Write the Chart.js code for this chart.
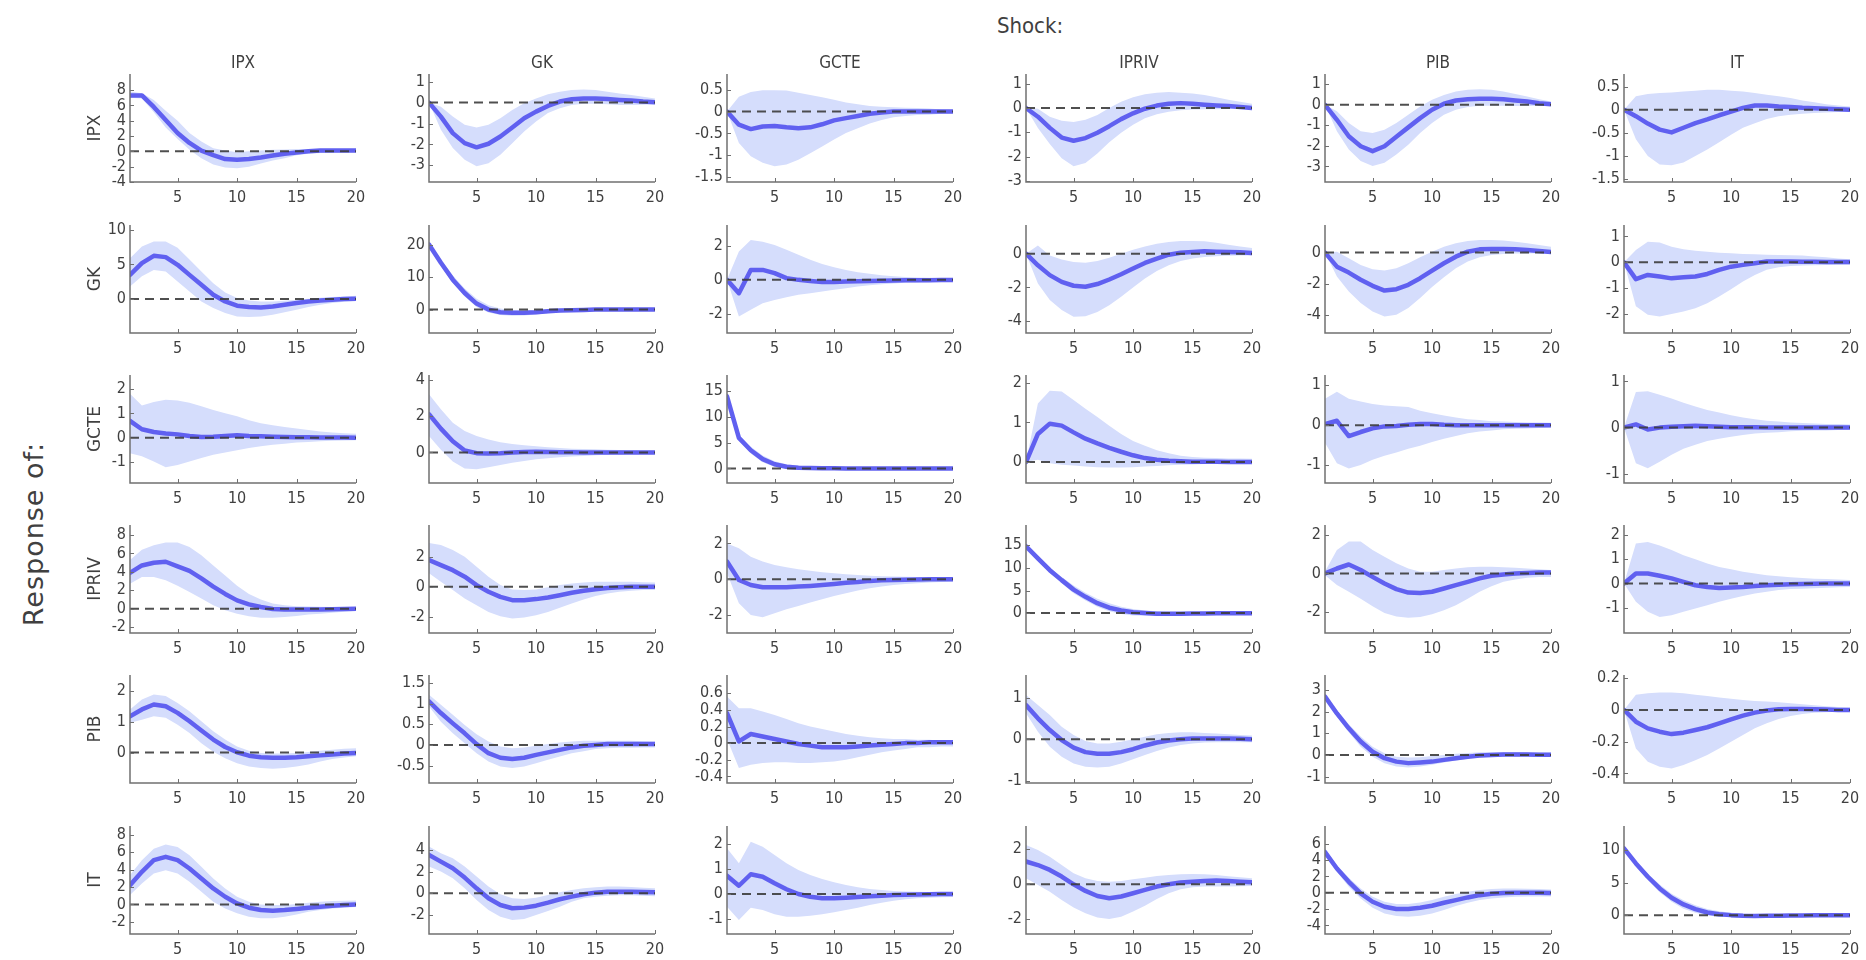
<!DOCTYPE html>
<html>
<head>
<meta charset="utf-8">
<script src="https://cdn.jsdelivr.net/npm/chart.js@4.4.1/dist/chart.umd.min.js"></script>
<style>
  html, body { margin: 0; padding: 0; background: #ffffff; }
  #fig { position: relative; width: 1866px; height: 960px; overflow: hidden; background: #ffffff; }
  #fig canvas { position: absolute; }
  .txt { position: absolute; white-space: nowrap; color: #404040; transform: translate(-50%, -50%); }
  .rot { transform: translate(-50%, -50%) rotate(-90deg); }
</style>
</head>
<body>
<div id="fig"></div>
<script>
// Impulse responses: rows = responding variable, columns = shocked variable.
const shocks = ['IPX', 'GK', 'GCTE', 'IPRIV', 'PIB', 'IT'];
const responses = ['IPX', 'GK', 'GCTE', 'IPRIV', 'PIB', 'IT'];
const horizon = [1, 2, 3, 4, 5, 6, 7, 8, 9, 10, 11, 12, 13, 14, 15, 16, 17, 18, 19, 20];
const xTicks = [5, 10, 15, 20];

// ---- Response of IPX ----
const irf_IPX = [
  [7.3, 7.3, 5.8, 4.1, 2.4, 1.1, 0.1, -0.5, -1.0, -1.1, -1.0, -0.8, -0.55, -0.3, -0.15, 0.0, 0.1, 0.1, 0.1, 0.1],
  [0, -0.67, -1.46, -1.94, -2.14, -1.97, -1.62, -1.19, -0.75, -0.43, -0.16, 0.05, 0.16, 0.2, 0.2, 0.17, 0.13, 0.1, 0.05, 0.02],
  [0, -0.3, -0.4, -0.34, -0.33, -0.36, -0.38, -0.36, -0.29, -0.2, -0.15, -0.1, -0.05, -0.02, 0, 0, 0, 0, 0, 0],
  [0, -0.36, -0.82, -1.22, -1.35, -1.24, -1.02, -0.75, -0.46, -0.22, -0.03, 0.1, 0.17, 0.2, 0.17, 0.13, 0.1, 0.08, 0.04, 0],
  [0, -0.73, -1.53, -2.02, -2.26, -2.02, -1.56, -1.1, -0.65, -0.24, 0.05, 0.21, 0.27, 0.3, 0.3, 0.27, 0.21, 0.16, 0.08, 0.03],
  [0, -0.14, -0.3, -0.43, -0.49, -0.39, -0.29, -0.21, -0.12, -0.04, 0.04, 0.09, 0.09, 0.07, 0.06, 0.04, 0.03, 0.02, 0.01, 0]
];
const hi_IPX = [
  [7.8, 7.6, 6.7, 5.3, 4.0, 2.4, 1.3, 0.4, 0.1, -0.1, 0.0, 0.1, 0.2, 0.25, 0.3, 0.3, 0.3, 0.3, 0.3, 0.3],
  [0, -0.2, -0.67, -1.06, -1.19, -1.06, -0.75, -0.35, -0.03, 0.2, 0.4, 0.52, 0.6, 0.63, 0.6, 0.52, 0.44, 0.36, 0.28, 0.2],
  [0, 0.34, 0.45, 0.49, 0.49, 0.48, 0.43, 0.38, 0.33, 0.27, 0.21, 0.17, 0.13, 0.11, 0.1, 0.09, 0.08, 0.07, 0.05, 0.04],
  [0, -0.03, -0.36, -0.53, -0.58, -0.49, -0.29, 0, 0.26, 0.44, 0.57, 0.63, 0.66, 0.63, 0.6, 0.53, 0.44, 0.34, 0.26, 0.17],
  [0, -0.32, -0.89, -1.29, -1.37, -1.21, -0.89, -0.48, -0.08, 0.24, 0.48, 0.65, 0.73, 0.76, 0.73, 0.65, 0.53, 0.4, 0.27, 0.16],
  [0, 0.29, 0.34, 0.36, 0.37, 0.39, 0.41, 0.43, 0.43, 0.41, 0.39, 0.36, 0.32, 0.29, 0.25, 0.2, 0.16, 0.12, 0.09, 0.07]
];
const lo_IPX = [
  [7.0, 6.9, 5.1, 3.1, 1.6, 0.2, -0.9, -1.7, -2.1, -2.2, -2.0, -1.6, -1.2, -0.9, -0.5, -0.3, -0.2, -0.15, -0.1, -0.1],
  [0, -1.3, -2.17, -2.73, -3.05, -2.9, -2.5, -1.94, -1.38, -0.9, -0.5, -0.27, -0.11, -0.06, -0.06, -0.08, -0.11, -0.11, -0.1, -0.08],
  [0, -0.72, -1.02, -1.17, -1.25, -1.21, -1.1, -0.95, -0.8, -0.64, -0.49, -0.38, -0.27, -0.19, -0.13, -0.1, -0.08, -0.07, -0.05, -0.04],
  [0, -0.82, -1.48, -2.07, -2.4, -2.27, -1.88, -1.41, -1.02, -0.69, -0.42, -0.26, -0.16, -0.09, -0.06, -0.05, -0.05, -0.04, -0.03, -0.03],
  [0, -1.29, -2.18, -2.74, -2.98, -2.82, -2.42, -1.94, -1.37, -0.89, -0.48, -0.24, -0.11, -0.05, -0.05, -0.05, -0.06, -0.06, -0.05, -0.04],
  [0, -0.64, -1.0, -1.18, -1.2, -1.14, -1.0, -0.86, -0.7, -0.54, -0.39, -0.29, -0.2, -0.14, -0.11, -0.09, -0.07, -0.06, -0.05, -0.04]
];
const yLim_IPX = [[-4, 10.1], [-3.8, 1.37], [-1.61, 0.86], [-3.05, 1.4], [-3.76, 1.5], [-1.56, 0.77]];
const yTicks_IPX = [[-4, -2, 0, 2, 4, 6, 8], [-3, -2, -1, 0, 1], [-1.5, -1, -0.5, 0, 0.5], [-3, -2, -1, 0, 1], [-3, -2, -1, 0, 1], [-1.5, -1, -0.5, 0, 0.5]];

// ---- Response of GK ----
const irf_GK = [
  [3.5, 5.2, 6.25, 6.06, 4.95, 3.5, 2.07, 0.63, -0.34, -0.96, -1.15, -1.2, -1.06, -0.82, -0.58, -0.34, -0.19, -0.1, 0, 0.05],
  [20, 14.4, 9.2, 5.1, 1.85, 0, -0.8, -1.0, -1.0, -0.8, -0.5, -0.3, -0.2, -0.1, 0, 0, 0, 0, 0, 0],
  [0, -0.78, 0.58, 0.58, 0.39, 0.1, 0, -0.06, -0.12, -0.12, -0.1, -0.08, -0.06, -0.05, -0.04, -0.03, -0.02, -0.02, -0.01, -0.01],
  [0, -0.69, -1.27, -1.67, -1.9, -1.96, -1.8, -1.53, -1.22, -0.88, -0.55, -0.29, -0.06, 0.06, 0.1, 0.14, 0.12, 0.1, 0.08, 0.04],
  [0, -0.9, -1.28, -1.74, -2.13, -2.43, -2.34, -2.06, -1.64, -1.15, -0.68, -0.26, 0.06, 0.21, 0.23, 0.23, 0.21, 0.17, 0.11, 0.04],
  [0, -0.65, -0.49, -0.55, -0.62, -0.58, -0.55, -0.45, -0.29, -0.17, -0.1, -0.04, 0.03, 0.03, 0.03, 0.02, 0.02, 0.01, 0.01, 0.01]
];
const hi_GK = [
  [5.9, 7.6, 8.3, 8.3, 7.4, 5.7, 4.0, 2.3, 0.96, 0.14, -0.19, -0.34, -0.34, -0.24, -0.1, 0.05, 0.19, 0.29, 0.38, 0.48],
  [20.5, 15.5, 10.5, 6.5, 3.3, 1.3, 0.3, -0.2, -0.3, -0.2, 0, 0.2, 0.3, 0.4, 0.4, 0.4, 0.35, 0.3, 0.3, 0.3],
  [0, 1.65, 2.33, 2.23, 2.04, 1.75, 1.46, 1.17, 0.93, 0.74, 0.58, 0.45, 0.35, 0.27, 0.21, 0.17, 0.14, 0.12, 0.1, 0.08],
  [0, 0.49, -0.1, -0.35, -0.49, -0.53, -0.43, -0.24, 0, 0.24, 0.43, 0.59, 0.69, 0.75, 0.75, 0.73, 0.65, 0.53, 0.43, 0.33],
  [0, 0.06, -0.36, -0.79, -1.06, -1.15, -1.0, -0.68, -0.3, 0.06, 0.38, 0.6, 0.74, 0.81, 0.81, 0.77, 0.7, 0.6, 0.49, 0.38],
  [0, 0.47, 0.79, 0.76, 0.6, 0.5, 0.45, 0.41, 0.37, 0.35, 0.32, 0.31, 0.29, 0.28, 0.27, 0.26, 0.22, 0.19, 0.15, 0.12]
];
const lo_GK = [
  [1.8, 3.3, 4.2, 4.0, 2.55, 1.1, -0.34, -1.3, -2.0, -2.5, -2.6, -2.5, -2.26, -1.92, -1.54, -1.15, -0.82, -0.58, -0.38, -0.29],
  [19.5, 13.5, 8.2, 4.0, 0.8, -0.9, -1.7, -1.9, -1.8, -1.5, -1.1, -0.8, -0.6, -0.5, -0.4, -0.35, -0.3, -0.3, -0.3, -0.3],
  [0, -2.14, -1.75, -1.36, -1.17, -1.01, -0.87, -0.78, -0.68, -0.58, -0.49, -0.39, -0.31, -0.25, -0.21, -0.17, -0.15, -0.13, -0.12, -0.1],
  [0, -1.76, -2.75, -3.33, -3.73, -3.7, -3.45, -3.06, -2.55, -2.0, -1.47, -1.02, -0.69, -0.43, -0.29, -0.2, -0.15, -0.12, -0.1, -0.1],
  [0, -1.53, -2.49, -3.23, -3.77, -4.09, -3.98, -3.55, -2.91, -2.21, -1.57, -1.0, -0.57, -0.3, -0.15, -0.09, -0.06, -0.05, -0.04, -0.04],
  [0, -1.7, -2.03, -2.09, -2.0, -1.9, -1.77, -1.58, -1.32, -1.04, -0.74, -0.49, -0.29, -0.19, -0.14, -0.12, -0.11, -0.1, -0.09, -0.09]
];
const yLim_GK = [[-4.9, 10.7], [-7.2, 26], [-3.1, 3.2], [-4.7, 1.7], [-5.15, 1.77], [-2.73, 1.44]];
const yTicks_GK = [[0, 5, 10], [0, 10, 20], [-2, 0, 2], [-4, -2, 0], [-4, -2, 0], [-2, -1, 0, 1]];

// ---- Response of GCTE ----
const irf_GCTE = [
  [0.69, 0.35, 0.24, 0.18, 0.14, 0.07, 0.03, 0.04, 0.07, 0.1, 0.07, 0.06, 0.04, 0.03, 0.02, 0.02, 0.01, 0.01, 0.01, 0],
  [2.1, 1.31, 0.62, 0.11, -0.04, -0.06, -0.04, 0, 0.02, 0.04, 0.02, 0.01, 0.01, 0, 0, 0, 0, 0, 0, 0],
  [13.9, 5.9, 3.5, 1.8, 0.8, 0.33, 0.13, 0.07, 0.03, 0.02, 0.01, 0, 0, 0, 0, 0, 0, 0, 0, 0],
  [0, 0.71, 0.97, 0.92, 0.75, 0.59, 0.47, 0.36, 0.26, 0.17, 0.1, 0.06, 0.03, 0.02, 0.01, 0.01, 0.01, 0, 0, 0],
  [0.03, 0.11, -0.27, -0.17, -0.08, -0.03, -0.02, 0.01, 0.03, 0.03, 0.01, 0, 0, 0, 0, 0, 0, 0, 0, 0],
  [0, 0.07, -0.04, 0, 0.02, 0.03, 0.04, 0.03, 0.02, 0.01, 0.01, 0.01, 0, 0, 0, 0, 0, 0, 0, 0]
];
const hi_GCTE = [
  [1.8, 1.32, 1.46, 1.56, 1.53, 1.43, 1.29, 1.14, 1.0, 0.88, 0.72, 0.6, 0.51, 0.44, 0.38, 0.32, 0.26, 0.22, 0.19, 0.17],
  [3.2, 2.37, 1.64, 1.18, 0.9, 0.71, 0.56, 0.47, 0.39, 0.34, 0.28, 0.24, 0.21, 0.19, 0.17, 0.15, 0.13, 0.11, 0.1, 0.09],
  [14.3, 6.4, 4.2, 2.5, 1.4, 0.8, 0.5, 0.35, 0.25, 0.2, 0.15, 0.12, 0.1, 0.1, 0.08, 0.07, 0.06, 0.05, 0.05, 0.05],
  [0, 1.48, 1.8, 1.78, 1.57, 1.35, 1.14, 0.92, 0.71, 0.53, 0.41, 0.3, 0.22, 0.16, 0.13, 0.11, 0.1, 0.09, 0.09, 0.08],
  [0.66, 0.83, 0.66, 0.59, 0.53, 0.49, 0.47, 0.45, 0.36, 0.3, 0.24, 0.19, 0.15, 0.13, 0.1, 0.09, 0.08, 0.07, 0.07, 0.06],
  [0, 0.77, 0.79, 0.71, 0.63, 0.54, 0.46, 0.38, 0.33, 0.27, 0.22, 0.18, 0.15, 0.13, 0.11, 0.1, 0.09, 0.08, 0.08, 0.07]
];
const lo_GCTE = [
  [-0.63, -0.76, -0.97, -1.21, -1.11, -0.97, -0.83, -0.69, -0.6, -0.51, -0.42, -0.35, -0.28, -0.24, -0.19, -0.17, -0.14, -0.12, -0.11, -0.1],
  [0.9, 0.15, -0.5, -0.88, -0.93, -0.82, -0.69, -0.56, -0.47, -0.37, -0.32, -0.26, -0.22, -0.19, -0.16, -0.13, -0.11, -0.09, -0.08, -0.07],
  [13.5, 5.5, 2.9, 1.2, 0.3, -0.1, -0.2, -0.2, -0.2, -0.15, -0.12, -0.1, -0.1, -0.08, -0.07, -0.06, -0.05, -0.05, -0.04, -0.04],
  [0, 0.06, -0.03, -0.07, -0.09, -0.11, -0.13, -0.14, -0.14, -0.13, -0.11, -0.1, -0.08, -0.07, -0.06, -0.05, -0.05, -0.04, -0.04, -0.03],
  [-0.44, -0.95, -1.08, -0.99, -0.86, -0.76, -0.68, -0.59, -0.51, -0.42, -0.34, -0.27, -0.2, -0.16, -0.13, -0.1, -0.09, -0.08, -0.07, -0.06],
  [0, -0.77, -0.88, -0.74, -0.59, -0.46, -0.37, -0.29, -0.24, -0.2, -0.16, -0.13, -0.11, -0.1, -0.08, -0.07, -0.06, -0.06, -0.05, -0.05]
];
const yLim_GCTE = [[-1.85, 2.57], [-1.68, 4.26], [-2.8, 18], [-0.53, 2.2], [-1.44, 1.25], [-1.2, 1.14]];
const yTicks_GCTE = [[-1, 0, 1, 2], [0, 2, 4], [0, 5, 10, 15], [0, 1, 2], [-1, 0, 1], [-1, 0, 1]];

// ---- Response of IPRIV ----
const irf_IPRIV = [
  [3.9, 4.7, 5.0, 5.1, 4.6, 4.1, 3.3, 2.4, 1.6, 0.9, 0.47, 0.18, -0.04, -0.1, -0.1, -0.1, -0.1, -0.07, -0.04, 0],
  [1.78, 1.44, 1.1, 0.67, 0.11, -0.33, -0.67, -0.89, -0.89, -0.82, -0.71, -0.56, -0.4, -0.27, -0.16, -0.09, -0.04, 0, 0, 0],
  [0.99, -0.04, -0.32, -0.45, -0.45, -0.45, -0.41, -0.37, -0.32, -0.26, -0.19, -0.15, -0.09, -0.06, -0.04, -0.02, -0.01, 0, 0, 0],
  [14.8, 12.1, 9.5, 7.3, 5.2, 3.6, 2.2, 1.2, 0.6, 0.2, 0, -0.15, -0.15, -0.12, -0.1, -0.08, -0.05, -0.03, -0.02, -0.01],
  [0, 0.26, 0.47, 0.18, -0.18, -0.53, -0.82, -1.0, -1.02, -0.96, -0.79, -0.61, -0.44, -0.26, -0.12, -0.05, 0, 0.03, 0.05, 0.05],
  [0, 0.41, 0.41, 0.32, 0.21, 0.07, -0.07, -0.14, -0.18, -0.16, -0.14, -0.1, -0.07, -0.05, -0.03, -0.02, -0.01, 0, 0, 0]
];
const hi_IPRIV = [
  [5.3, 6.4, 6.9, 7.2, 7.2, 6.7, 5.8, 4.7, 3.6, 2.5, 1.6, 1.0, 0.55, 0.36, 0.25, 0.22, 0.2, 0.18, 0.16, 0.15],
  [2.9, 2.78, 2.44, 2.0, 1.33, 0.67, 0.11, -0.18, -0.22, -0.18, -0.04, 0.11, 0.22, 0.29, 0.33, 0.33, 0.33, 0.33, 0.3, 0.29],
  [2.0, 1.73, 1.26, 0.99, 0.8, 0.67, 0.56, 0.47, 0.39, 0.33, 0.28, 0.24, 0.2, 0.17, 0.15, 0.14, 0.13, 0.12, 0.11, 0.1],
  [15.2, 12.6, 10.1, 8.0, 6.1, 4.5, 3.2, 2.2, 1.4, 0.9, 0.6, 0.4, 0.3, 0.25, 0.2, 0.18, 0.16, 0.15, 0.15, 0.15],
  [0.1, 1.23, 1.67, 1.67, 1.23, 0.88, 0.53, 0.26, 0.09, 0.09, 0.18, 0.26, 0.32, 0.35, 0.35, 0.32, 0.3, 0.26, 0.22, 0.18],
  [0, 1.64, 1.7, 1.56, 1.37, 1.16, 0.99, 0.82, 0.68, 0.58, 0.48, 0.41, 0.34, 0.3, 0.26, 0.23, 0.2, 0.18, 0.16, 0.14]
];
const lo_IPRIV = [
  [2.7, 3.45, 3.45, 3.1, 2.5, 1.8, 1.1, 0.36, -0.18, -0.55, -0.84, -0.98, -0.98, -0.9, -0.8, -0.65, -0.55, -0.44, -0.33, -0.25],
  [0.89, 0.33, -0.22, -0.78, -1.22, -1.67, -1.96, -2.1, -2.04, -1.89, -1.67, -1.4, -1.11, -0.84, -0.62, -0.44, -0.33, -0.27, -0.22, -0.22],
  [0.33, -1.34, -2.0, -2.12, -1.9, -1.67, -1.49, -1.3, -1.12, -0.93, -0.78, -0.63, -0.5, -0.41, -0.32, -0.26, -0.22, -0.18, -0.15, -0.13],
  [14.4, 11.6, 8.9, 6.6, 4.4, 2.8, 1.4, 0.4, -0.2, -0.5, -0.6, -0.65, -0.6, -0.5, -0.4, -0.3, -0.25, -0.2, -0.15, -0.12],
  [-0.1, -0.61, -0.96, -1.32, -1.72, -2.07, -2.25, -2.32, -2.28, -2.14, -1.93, -1.67, -1.32, -0.96, -0.67, -0.44, -0.32, -0.23, -0.18, -0.18],
  [0, -0.75, -1.16, -1.37, -1.3, -1.16, -1.03, -0.89, -0.75, -0.62, -0.51, -0.41, -0.34, -0.27, -0.23, -0.21, -0.19, -0.17, -0.15, -0.14]
];
const yLim_IPRIV = [[-2.65, 9.1], [-3.07, 4.1], [-3, 3.03], [-4.4, 19.5], [-3.12, 2.54], [-2.03, 2.4]];
const yTicks_IPRIV = [[-2, 0, 2, 4, 6, 8], [-2, 0, 2], [-2, 0, 2], [0, 5, 10, 15], [-2, 0, 2], [-1, 0, 1, 2]];

// ---- Response of PIB ----
const irf_PIB = [
  [1.17, 1.39, 1.55, 1.49, 1.28, 1.01, 0.71, 0.42, 0.18, 0.01, -0.1, -0.15, -0.17, -0.17, -0.15, -0.12, -0.09, -0.06, -0.03, -0.01],
  [1.05, 0.77, 0.52, 0.28, 0.02, -0.2, -0.31, -0.34, -0.31, -0.24, -0.18, -0.12, -0.06, -0.02, 0, 0.02, 0.02, 0.02, 0.02, 0.02],
  [0.36, 0.02, 0.11, 0.08, 0.05, 0.02, -0.01, -0.03, -0.05, -0.05, -0.05, -0.04, -0.03, -0.02, -0.01, 0, 0, 0.01, 0.01, 0.01],
  [0.82, 0.5, 0.22, -0.02, -0.2, -0.31, -0.35, -0.35, -0.31, -0.24, -0.15, -0.08, -0.03, 0, 0.02, 0.02, 0.02, 0.02, 0.01, 0],
  [2.7, 1.92, 1.23, 0.62, 0.15, -0.15, -0.31, -0.38, -0.35, -0.31, -0.23, -0.15, -0.08, -0.03, 0, 0.02, 0.02, 0.02, 0.01, 0.01],
  [0, -0.074, -0.116, -0.137, -0.152, -0.143, -0.126, -0.109, -0.084, -0.059, -0.036, -0.017, -0.004, 0.004, 0.006, 0.006, 0.004, 0.002, 0, 0]
];
const hi_PIB = [
  [1.39, 1.71, 1.87, 1.82, 1.6, 1.33, 1.01, 0.69, 0.42, 0.2, 0.06, -0.01, -0.03, -0.03, -0.01, 0.02, 0.06, 0.09, 0.12, 0.14],
  [1.21, 0.97, 0.73, 0.48, 0.26, 0.08, -0.04, -0.08, -0.06, -0.02, 0.02, 0.06, 0.08, 0.1, 0.1, 0.1, 0.1, 0.1, 0.09, 0.08],
  [0.56, 0.42, 0.42, 0.38, 0.34, 0.29, 0.24, 0.2, 0.17, 0.14, 0.11, 0.09, 0.07, 0.06, 0.05, 0.05, 0.04, 0.04, 0.03, 0.03],
  [1.06, 0.82, 0.58, 0.3, 0.1, -0.04, -0.1, -0.1, -0.06, 0, 0.06, 0.12, 0.15, 0.17, 0.17, 0.15, 0.14, 0.12, 0.1, 0.09],
  [2.77, 2.08, 1.42, 0.85, 0.38, 0.08, -0.08, -0.12, -0.11, -0.05, 0, 0.05, 0.09, 0.12, 0.14, 0.14, 0.13, 0.12, 0.11, 0.1],
  [0, 0.095, 0.105, 0.11, 0.11, 0.105, 0.095, 0.088, 0.078, 0.07, 0.063, 0.057, 0.053, 0.048, 0.042, 0.036, 0.03, 0.023, 0.019, 0.015]
];
const lo_PIB = [
  [0.96, 1.06, 1.17, 1.12, 0.9, 0.63, 0.3, 0.03, -0.18, -0.34, -0.45, -0.5, -0.52, -0.5, -0.45, -0.38, -0.29, -0.21, -0.16, -0.12],
  [0.93, 0.56, 0.28, 0.04, -0.2, -0.4, -0.52, -0.56, -0.52, -0.44, -0.36, -0.28, -0.2, -0.15, -0.1, -0.08, -0.07, -0.07, -0.06, -0.06],
  [0.05, -0.3, -0.26, -0.24, -0.23, -0.23, -0.24, -0.24, -0.23, -0.22, -0.2, -0.17, -0.14, -0.11, -0.09, -0.07, -0.05, -0.05, -0.04, -0.04],
  [0.62, 0.18, -0.18, -0.42, -0.58, -0.66, -0.68, -0.66, -0.58, -0.48, -0.38, -0.28, -0.2, -0.14, -0.1, -0.08, -0.07, -0.07, -0.07, -0.07],
  [2.62, 1.77, 1.05, 0.38, -0.08, -0.38, -0.54, -0.58, -0.54, -0.46, -0.35, -0.26, -0.18, -0.12, -0.09, -0.08, -0.07, -0.07, -0.06, -0.06],
  [0, -0.242, -0.326, -0.358, -0.368, -0.347, -0.316, -0.284, -0.242, -0.2, -0.158, -0.116, -0.084, -0.057, -0.038, -0.025, -0.017, -0.014, -0.012, -0.011]
];
const yLim_PIB = [[-0.98, 2.5], [-0.92, 1.69], [-0.48, 0.82], [-1.05, 1.54], [-1.3, 3.7], [-0.46, 0.22]];
const yTicks_PIB = [[0, 1, 2], [-0.5, 0, 0.5, 1, 1.5], [-0.4, -0.2, 0, 0.2, 0.4, 0.6], [-1, 0, 1], [-1, 0, 1, 2, 3], [-0.4, -0.2, 0, 0.2]];

// ---- Response of IT ----
const irf_IT = [
  [2.2, 3.74, 5.08, 5.46, 5.08, 4.12, 2.98, 1.83, 0.88, 0.11, -0.38, -0.65, -0.73, -0.65, -0.53, -0.38, -0.27, -0.15, -0.08, 0],
  [3.54, 2.92, 2.31, 1.45, 0.46, -0.46, -1.08, -1.38, -1.32, -1.14, -0.86, -0.55, -0.31, -0.09, 0.06, 0.15, 0.15, 0.15, 0.12, 0.09],
  [0.73, 0.33, 0.79, 0.69, 0.43, 0.19, 0, -0.11, -0.17, -0.17, -0.15, -0.12, -0.09, -0.07, -0.04, -0.03, -0.02, -0.01, 0, 0],
  [1.3, 1.1, 0.82, 0.44, 0, -0.38, -0.67, -0.8, -0.7, -0.51, -0.32, -0.13, 0, 0.1, 0.15, 0.19, 0.21, 0.19, 0.15, 0.11],
  [5.0, 2.98, 1.35, -0.08, -1.1, -1.71, -2.0, -2.0, -1.84, -1.59, -1.22, -0.9, -0.57, -0.29, -0.12, -0.04, 0, 0, 0, -0.04],
  [10.26, 7.95, 5.9, 4.1, 2.67, 1.64, 0.92, 0.41, 0.15, 0, -0.1, -0.12, -0.1, -0.08, -0.06, -0.04, -0.03, -0.02, -0.01, 0]
];
const hi_IT = [
  [3.36, 5.08, 6.4, 6.87, 6.6, 5.65, 4.31, 2.98, 1.83, 0.88, 0.31, 0, -0.08, -0.08, 0.04, 0.19, 0.31, 0.38, 0.42, 0.46],
  [4.3, 3.7, 3.23, 2.46, 1.54, 0.62, -0.09, -0.46, -0.52, -0.4, -0.15, 0.09, 0.31, 0.46, 0.55, 0.62, 0.62, 0.58, 0.52, 0.46],
  [1.83, 1.23, 2.09, 1.89, 1.56, 1.23, 0.96, 0.76, 0.6, 0.47, 0.36, 0.27, 0.2, 0.16, 0.12, 0.1, 0.09, 0.08, 0.07, 0.07],
  [2.25, 1.96, 1.58, 1.1, 0.63, 0.34, 0.19, 0.15, 0.19, 0.29, 0.38, 0.48, 0.53, 0.57, 0.59, 0.57, 0.53, 0.46, 0.4, 0.34],
  [5.43, 3.39, 1.84, 0.53, -0.49, -1.1, -1.39, -1.39, -1.18, -0.9, -0.49, -0.16, 0.12, 0.33, 0.45, 0.53, 0.53, 0.49, 0.45, 0.41],
  [10.5, 8.35, 6.4, 4.7, 3.3, 2.3, 1.5, 0.95, 0.6, 0.35, 0.2, 0.12, 0.1, 0.08, 0.07, 0.06, 0.05, 0.04, 0.04, 0.04]
];
const lo_IT = [
  [1.07, 2.4, 3.55, 3.93, 3.55, 2.6, 1.45, 0.31, -0.46, -1.03, -1.41, -1.6, -1.6, -1.41, -1.15, -0.84, -0.65, -0.46, -0.38, -0.31],
  [2.46, 2.0, 1.38, 0.46, -0.62, -1.54, -2.15, -2.46, -2.37, -2.0, -1.63, -1.23, -0.77, -0.46, -0.31, -0.22, -0.19, -0.19, -0.22, -0.28],
  [-0.51, -1.04, -0.55, -0.64, -0.81, -0.91, -0.91, -0.87, -0.81, -0.73, -0.64, -0.55, -0.44, -0.35, -0.27, -0.21, -0.17, -0.15, -0.13, -0.12],
  [0.34, -0.04, -0.42, -0.9, -1.33, -1.66, -1.9, -1.98, -1.85, -1.56, -1.22, -0.84, -0.51, -0.29, -0.17, -0.13, -0.12, -0.12, -0.11, -0.1],
  [4.8, 2.57, 0.73, -0.69, -1.84, -2.53, -2.86, -2.94, -2.82, -2.53, -2.12, -1.63, -1.22, -0.9, -0.69, -0.57, -0.5, -0.47, -0.45, -0.45],
  [10.0, 7.6, 5.4, 3.5, 2.05, 1.0, 0.35, -0.05, -0.25, -0.33, -0.35, -0.33, -0.28, -0.22, -0.17, -0.13, -0.1, -0.08, -0.06, -0.05]
];
const yLim_IT = [[-3.4, 9], [-3.75, 6.2], [-1.6, 2.72], [-2.84, 3.33], [-5.06, 8.2], [-2.9, 13.7]];
const yTicks_IT = [[-2, 0, 2, 4, 6, 8], [-2, 0, 2, 4], [-1, 0, 1, 2], [-2, 0, 2], [-4, -2, 0, 2, 4, 6], [0, 5, 10]];

// Lookup tables assembled from the arrays above
const IRF = { IPX: irf_IPX, GK: irf_GK, GCTE: irf_GCTE, IPRIV: irf_IPRIV, PIB: irf_PIB, IT: irf_IT };
const HI = { IPX: hi_IPX, GK: hi_GK, GCTE: hi_GCTE, IPRIV: hi_IPRIV, PIB: hi_PIB, IT: hi_IT };
const LO = { IPX: lo_IPX, GK: lo_GK, GCTE: lo_GCTE, IPRIV: lo_IPRIV, PIB: lo_PIB, IT: lo_IT };
const YLIM = { IPX: yLim_IPX, GK: yLim_GK, GCTE: yLim_GCTE, IPRIV: yLim_IPRIV, PIB: yLim_PIB, IT: yLim_IT };
const YTICKS = { IPX: yTicks_IPX, GK: yTicks_GK, GCTE: yTicks_GCTE, IPRIV: yTicks_IPRIV, PIB: yTicks_PIB, IT: yTicks_IT };

// ---- Layout of the 6x6 panel grid (plot-area boxes, px) ----
const COL_LEFT = [130, 429, 727, 1026, 1325, 1624];
const ROW_TOP = [74, 225, 375, 525, 675, 826];
const PLOT_W = 226, PLOT_H = 108;
const PAD = { l: 60, t: 10, r: 18, b: 30 };

const BAND = 'rgb(213, 221, 252)';
const LINE = 'rgb(96, 96, 240)';
const ZERO = 'rgba(60, 60, 60, 0.9)';
const AXIS = '#707070';
const TEXT = '#404040';
const TICK_FONT = { family: "'DejaVu Sans Condensed', 'Liberation Sans Narrow', 'DejaVu Sans', sans-serif", size: 16 };

// Left and bottom axis lines with short inward tick marks
const axesFrame = {
  id: 'axesFrame',
  afterDraw(chart) {
    const { ctx, chartArea: a, scales: { x, y } } = chart;
    ctx.save();
    ctx.strokeStyle = AXIS;
    ctx.lineWidth = 1.5;
    ctx.beginPath();
    ctx.moveTo(a.left, a.top);
    ctx.lineTo(a.left, a.bottom);
    ctx.lineTo(a.right, a.bottom);
    ctx.stroke();
    ctx.lineWidth = 1;
    ctx.beginPath();
    y.ticks.forEach(t => {
      const py = Math.round(y.getPixelForValue(t.value)) + 0.5;
      ctx.moveTo(a.left, py); ctx.lineTo(a.left + 4, py);
    });
    x.ticks.forEach(t => {
      const px = Math.round(x.getPixelForValue(t.value)) + 0.5;
      ctx.moveTo(px, a.bottom); ctx.lineTo(px, a.bottom - 4);
    });
    ctx.stroke();
    ctx.restore();
  }
};

const fig = document.getElementById('fig');
const pts = arr => horizon.map((h, i) => ({ x: h, y: arr[i] }));

function addText(str, x, y, size, family, rotate, spacing) {
  const d = document.createElement('div');
  d.className = 'txt' + (rotate ? ' rot' : '');
  d.textContent = str;
  d.style.left = x + 'px';
  d.style.top = y + 'px';
  d.style.fontSize = size + 'px';
  d.style.fontFamily = family;
  if (spacing) d.style.letterSpacing = spacing + 'px';
  fig.appendChild(d);
}

responses.forEach((resp, r) => {
  shocks.forEach((shock, c) => {
    const cv = document.createElement('canvas');
    const w = PAD.l + PLOT_W + PAD.r, h = PAD.t + PLOT_H + PAD.b;
    cv.width = w; cv.height = h;
    cv.style.width = w + 'px'; cv.style.height = h + 'px';
    cv.style.left = (COL_LEFT[c] - PAD.l) + 'px';
    cv.style.top = (ROW_TOP[r] - PAD.t) + 'px';
    fig.appendChild(cv);

    const [ymin, ymax] = YLIM[resp][c];
    const yt = YTICKS[resp][c];
    const zero = horizon.map(() => 0);

    new Chart(cv, {
      type: 'line',
      data: {
        datasets: [
          { data: pts(zero), borderColor: ZERO, borderWidth: 2, borderDash: [9, 6], pointRadius: 0, fill: false, order: 0 },
          { data: pts(IRF[resp][c]), borderColor: LINE, borderWidth: 4.5, pointRadius: 0, fill: false, order: 1, borderJoinStyle: 'round', borderCapStyle: 'round' },
          { data: pts(HI[resp][c]), borderColor: 'rgba(0,0,0,0)', borderWidth: 0, pointRadius: 0, backgroundColor: BAND, fill: '+1', order: 2 },
          { data: pts(LO[resp][c]), borderColor: 'rgba(0,0,0,0)', borderWidth: 0, pointRadius: 0, fill: false, order: 3 }
        ]
      },
      options: {
        responsive: false,
        animation: false,
        devicePixelRatio: 1,
        layout: { padding: { left: 0, top: PAD.t, right: PAD.r, bottom: 0 } },
        elements: { line: { tension: 0 } },
        plugins: { legend: { display: false }, tooltip: { enabled: false } },
        scales: {
          x: {
            type: 'linear', min: 1, max: 20,
            grid: { display: false, drawTicks: false },
            border: { display: false },
            ticks: { font: TICK_FONT, color: TEXT, padding: 6, maxRotation: 0, autoSkip: false, callback: v => String(v) },
            afterBuildTicks: s => { s.ticks = xTicks.map(v => ({ value: v })); },
            afterFit: s => { s.height = PAD.b; s.paddingLeft = 0; s.paddingRight = 0; }
          },
          y: {
            type: 'linear', min: ymin, max: ymax,
            grid: { display: false, drawTicks: false },
            border: { display: false },
            ticks: { font: TICK_FONT, color: TEXT, padding: 4, autoSkip: false, callback: v => String(v) },
            afterBuildTicks: s => { s.ticks = yt.map(v => ({ value: v })); },
            afterFit: s => { s.width = PAD.l; s.paddingTop = 0; s.paddingBottom = 0; }
          }
        }
      },
      plugins: [axesFrame]
    });
  });
});

// Captions
const CAP_FONT = "'DejaVu Sans Condensed', 'Liberation Sans Narrow', 'DejaVu Sans', sans-serif";
addText('Shock:', 1030, 25, 22, CAP_FONT, false);
shocks.forEach((s, c) => addText(s, COL_LEFT[c] + PLOT_W / 2, 62, 17, CAP_FONT, false));
responses.forEach((s, r) => addText(s, 94, ROW_TOP[r] + PLOT_H / 2, 17, "'DejaVu Sans', sans-serif", true));
addText('Response of:', 33, 534, 27, "'DejaVu Sans', sans-serif", true, 1);
</script>
</body>
</html>
